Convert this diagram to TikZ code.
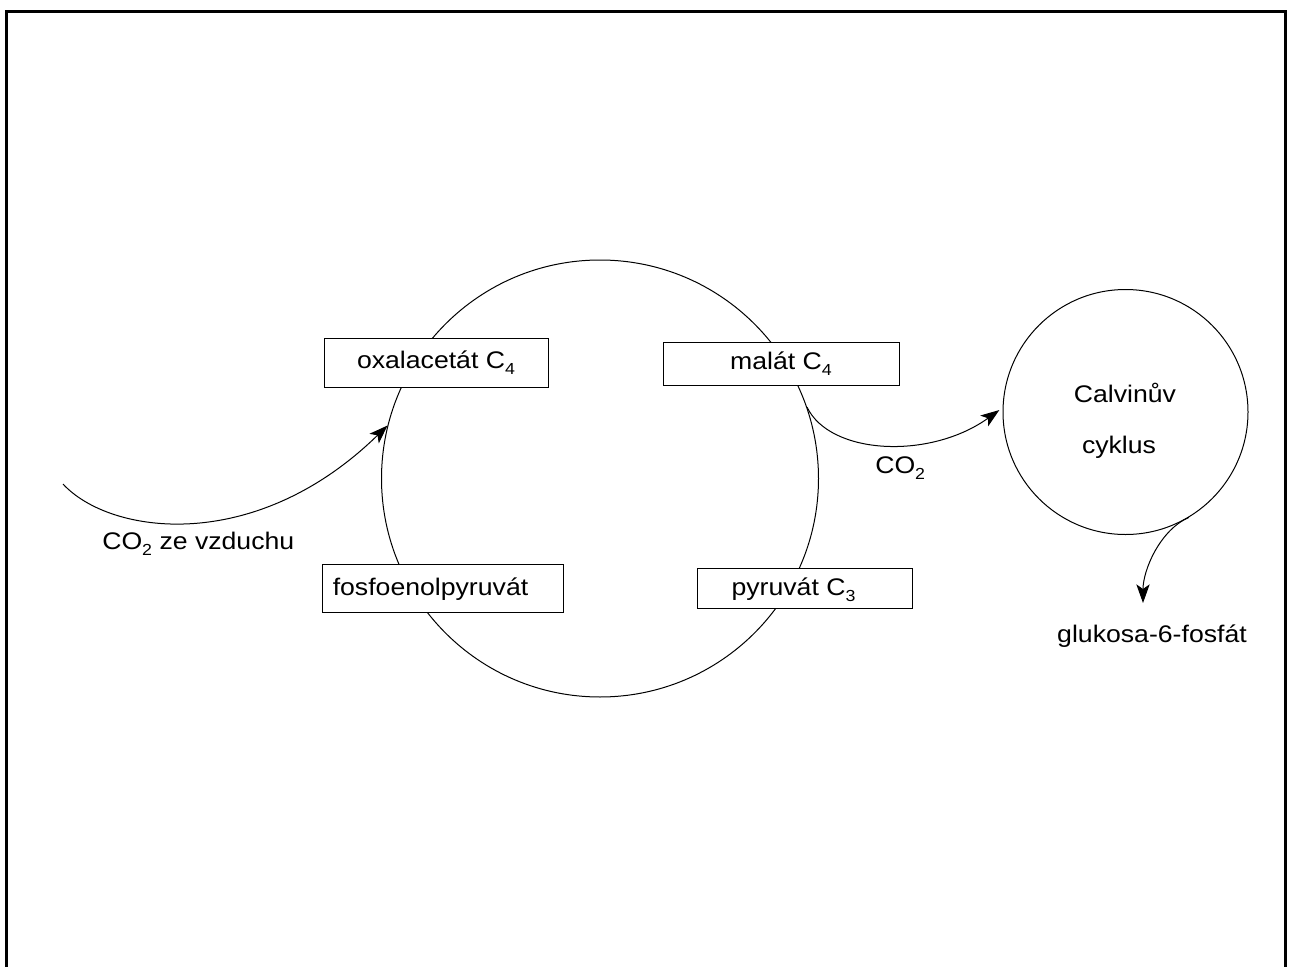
\documentclass[tikz,border=0pt]{standalone}
\usepackage{fontspec}
\setmainfont{Liberation Sans}[FakeStretch=1.11]
\usetikzlibrary{arrows.meta}
\newcommand{\lblfont}{\fontsize{18pt}{21.5pt}\selectfont}
% lowered, reduced index as in C_4
\newcommand{\idx}[1]{\raisebox{-5pt}{\fontsize{12pt}{14pt}\selectfont #1}}
\begin{document}
\begin{tikzpicture}[x=0.75pt,y=-0.75pt,
  thin line/.style={line width=0.75pt},
  cyclecircle/.style={circle, draw, thin line, inner sep=0pt},
  box/.style={draw, fill=white, thin line, inner sep=0pt, font=\lblfont},
  lbl/.style={inner sep=0pt, font=\lblfont},
  flow/.style={draw, thin line, -{Stealth[length=14pt,width=10pt,inset=3.5pt]}}]
\useasboundingbox (0,0) rectangle (1290,967);

% outer frame, open at the bottom
\draw[line width=2.25pt] (6,967) -- (6,11) -- (1285.5,11) -- (1285.5,967);

% C4 cycle and Calvin cycle
\node[cyclecircle, minimum size=437*0.75pt] (cycle) at (600,478.5) {};
\node[cyclecircle, minimum size=245*0.75pt] (calvin) at (1125.5,412) {};
\node[lbl, anchor=base] (calvintxt) at (1125,402) {Calvinův};
\node[lbl, anchor=base] (cyklustxt) at (1119,453) {cyklus};

% connectors
\coordinate (airsrc) at (63,484);
\coordinate (gtip) at (1143,603);
\draw[flow] (airsrc) .. controls (110,535) and (255,555) .. (cycle.166);
\draw[flow, shorten >=3pt] (cycle.19.8) .. controls (830,455) and (930,460) .. (calvin.178);
\draw[flow] (calvin.-59) .. controls (1160,530) and (1143,570) .. (gtip);

% labels along the connectors
\node[lbl, anchor=base west] (co2air) at (102,549) {CO\idx{2} ze vzduchu};
\node[lbl, anchor=base west] (co2) at (875,473) {CO\idx{2}};
\node[lbl, anchor=base] (glukosa) at (1152,642) {glukosa-6-fosfát};

% intermediates on the cycle
\node[box, minimum width=224*0.75pt, minimum height=49*0.75pt] (oxa) at (436,362.5) {oxalacetát C\idx{4}};
\node[box, minimum width=236*0.75pt, minimum height=43*0.75pt] (malat) at (781,363.5) {malát C\idx{4}};
\node[box, minimum width=241*0.75pt, minimum height=48*0.75pt] (pep) at (442.5,588) {};
\node[lbl, anchor=base] (peptxt) at (430.5,595) {fosfoenolpyruvát};
\node[box, minimum width=215*0.75pt, minimum height=40*0.75pt] (pyr) at (804.5,588) {};
\node[lbl, anchor=base] (pyrtxt) at (793.5,595) {pyruvát C\idx{3}};
\end{tikzpicture}
\end{document}
